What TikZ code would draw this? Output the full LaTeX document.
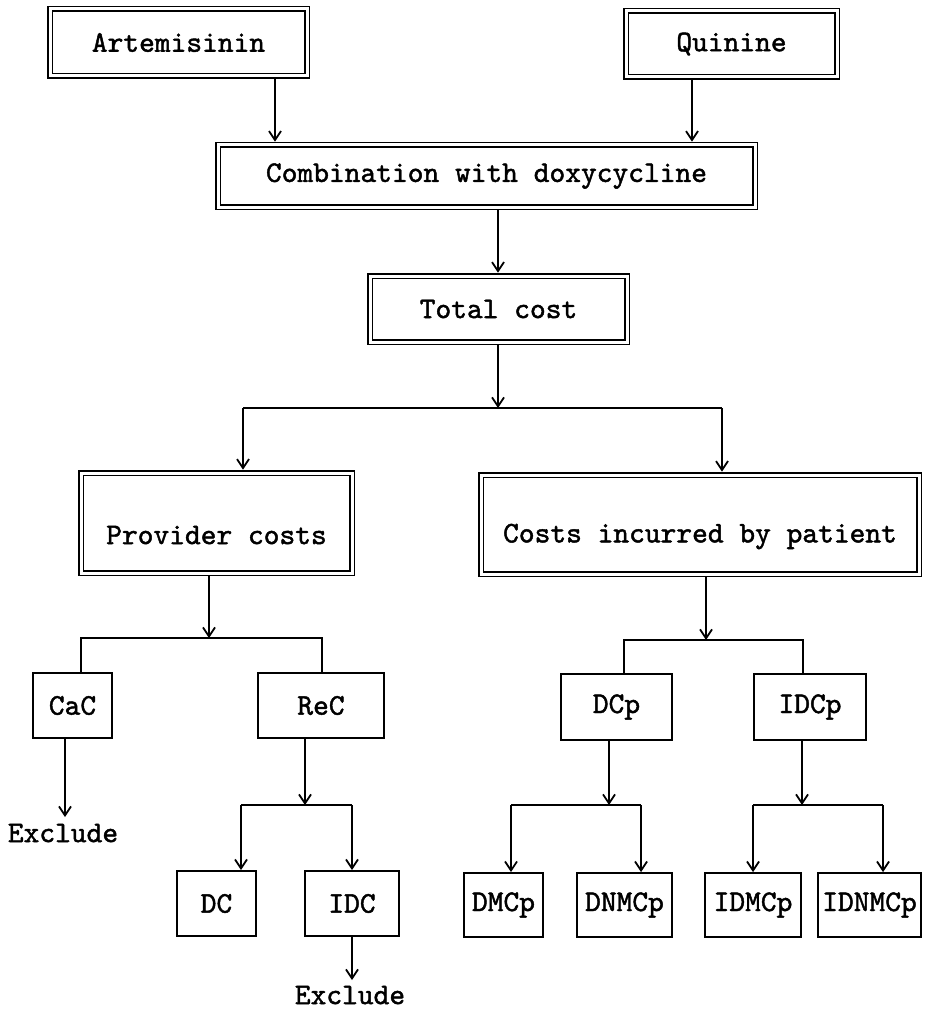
\documentclass[tikz,border=0pt]{standalone}
\usepackage{fontspec}
\usetikzlibrary{arrows.meta}
% monospaced face with a little extra weight, like a printer ribbon
\newfontfamily\dotfont{lmmono10-regular.otf}[FakeBold=1.5]

\tikzset{
  dbox/.style={draw, double, double distance=3pt, line width=1.8pt, inner sep=0pt,
               outer sep=3.3pt, font=\dotfont\fontsize{30}{32}\selectfont},
  sbox/.style={draw, line width=1.8pt, inner sep=0pt,
               font=\dotfont\fontsize{30}{32}\selectfont},
  lbl/.style={inner sep=0pt, font=\dotfont\fontsize{30}{32}\selectfont},
  conn/.style={line width=1.8pt},
  arr/.style={conn, -{Straight Barb[length=9pt,width=12pt]}}
}

\begin{document}
\begin{tikzpicture}[x=1pt, y=-1pt]
  \useasboundingbox (0,0) rectangle (924,1011);

  % drugs and combination
  \node[dbox, minimum width=257pt, minimum height=67pt] (art) at (178.5,42.5) {Artemisinin};
  \node[dbox, minimum width=211pt, minimum height=66pt] (qui) at (731.5,44) {Quinine};
  \node[dbox, minimum width=537pt, minimum height=62pt] (comb) at (486.5,176) {Combination with doxycycline};
  \node[dbox, minimum width=257pt, minimum height=66pt] (total) at (498.5,309) {Total cost};

  % cost perspectives
  \node[dbox, minimum width=271pt, minimum height=100pt] (prov) at (216.5,523) {};
  \node[lbl] (provtxt) at ([yshift=-12pt]prov.center) {Provider costs};
  \node[dbox, minimum width=438pt, minimum height=99pt] (pat) at (700,524.5) {};
  \node[lbl] (pattxt) at ([yshift=-12pt]pat.center) {Costs incurred by patient};

  % provider side
  \node[sbox, minimum width=79pt, minimum height=65pt] (cac) at (72.5,705.5) {CaC};
  \node[sbox, minimum width=126pt, minimum height=65pt] (rec) at (321,705.5) {ReC};
  \node[sbox, minimum width=79pt, minimum height=65pt] (dc) at (216.5,903.5) {DC};
  \node[sbox, minimum width=94pt, minimum height=65pt] (idc) at (352,903.5) {IDC};
  \node[lbl] (ex1) at (63,833) {Exclude};
  \node[lbl] (ex2) at (350,995) {Exclude};

  % patient side
  \node[sbox, minimum width=111pt, minimum height=66pt] (dcp) at (616.5,707) {DCp};
  \node[sbox, minimum width=112pt, minimum height=66pt] (idcp) at (810,707) {IDCp};
  \node[sbox, minimum width=79pt, minimum height=64pt] (dmcp) at (503.5,905) {DMCp};
  \node[sbox, minimum width=95pt, minimum height=64pt] (dnmcp) at (624.5,905) {DNMCp};
  \node[sbox, minimum width=96pt, minimum height=64pt] (idmcp) at (753,905) {IDMCp};
  \node[sbox, minimum width=103pt, minimum height=64pt] (idnmcp) at (869.5,905) {IDNMCp};

  % branch points
  \coordinate (ja) at (275,0);
  \coordinate (jq) at (692,0);
  \coordinate (jc) at (498,0);
  \coordinate (s1) at (498,408);
  \coordinate (s1l) at (243,408);
  \coordinate (s1r) at (722,408);
  \coordinate (s2) at (209,638);
  \coordinate (s2l) at (81,638);
  \coordinate (s2r) at (322,638);
  \coordinate (e1) at (65,817);
  \coordinate (s3) at (305,805);
  \coordinate (s3l) at (241,805);
  \coordinate (s3r) at (352,805);
  \coordinate (e2) at (352,980);
  \coordinate (s4) at (706,640);
  \coordinate (s4l) at (624,640);
  \coordinate (s4r) at (803,640);
  \coordinate (s5) at (609,805);
  \coordinate (s5l) at (511,805);
  \coordinate (s5r) at (641,805);
  \coordinate (s6) at (802,805);
  \coordinate (s6l) at (753,805);
  \coordinate (s6r) at (883,805);

  % connectors
  \draw[arr] (art.south -| ja) -- (comb.north -| ja);
  \draw[arr] (qui.south -| jq) -- (comb.north -| jq);
  \draw[arr] (comb.south -| jc) -- (total.north -| jc);

  \draw[arr] (total.south -| s1) -- (s1);
  \draw[conn] (s1l) -- (s1r);
  \draw[arr] (s1l) -- (prov.north -| s1l);
  \draw[arr] (s1r) -- (pat.north -| s1r);

  \draw[arr] (prov.south -| s2) -- (s2);
  \draw[conn] (cac.north -| s2l) -- (s2l) -- (s2r) -- (rec.north -| s2r);
  \draw[arr] (cac.south -| e1) -- (e1);
  \draw[arr] (rec.south -| s3) -- (s3);
  \draw[conn] (s3l) -- (s3r);
  \draw[arr] (s3l) -- (dc.north -| s3l);
  \draw[arr] (s3r) -- (idc.north -| s3r);
  \draw[arr] (idc.south -| e2) -- (e2);

  \draw[arr] (pat.south -| s4) -- (s4);
  \draw[conn] (dcp.north -| s4l) -- (s4l) -- (s4r) -- (idcp.north -| s4r);
  \draw[arr] (dcp.south -| s5) -- (s5);
  \draw[conn] (s5l) -- (s5r);
  \draw[arr] (s5l) -- (dmcp.north -| s5l);
  \draw[arr] (s5r) -- (dnmcp.north -| s5r);
  \draw[arr] (idcp.south -| s6) -- (s6);
  \draw[conn] (s6l) -- (s6r);
  \draw[arr] (s6l) -- (idmcp.north -| s6l);
  \draw[arr] (s6r) -- (idnmcp.north -| s6r);
\end{tikzpicture}
\end{document}
